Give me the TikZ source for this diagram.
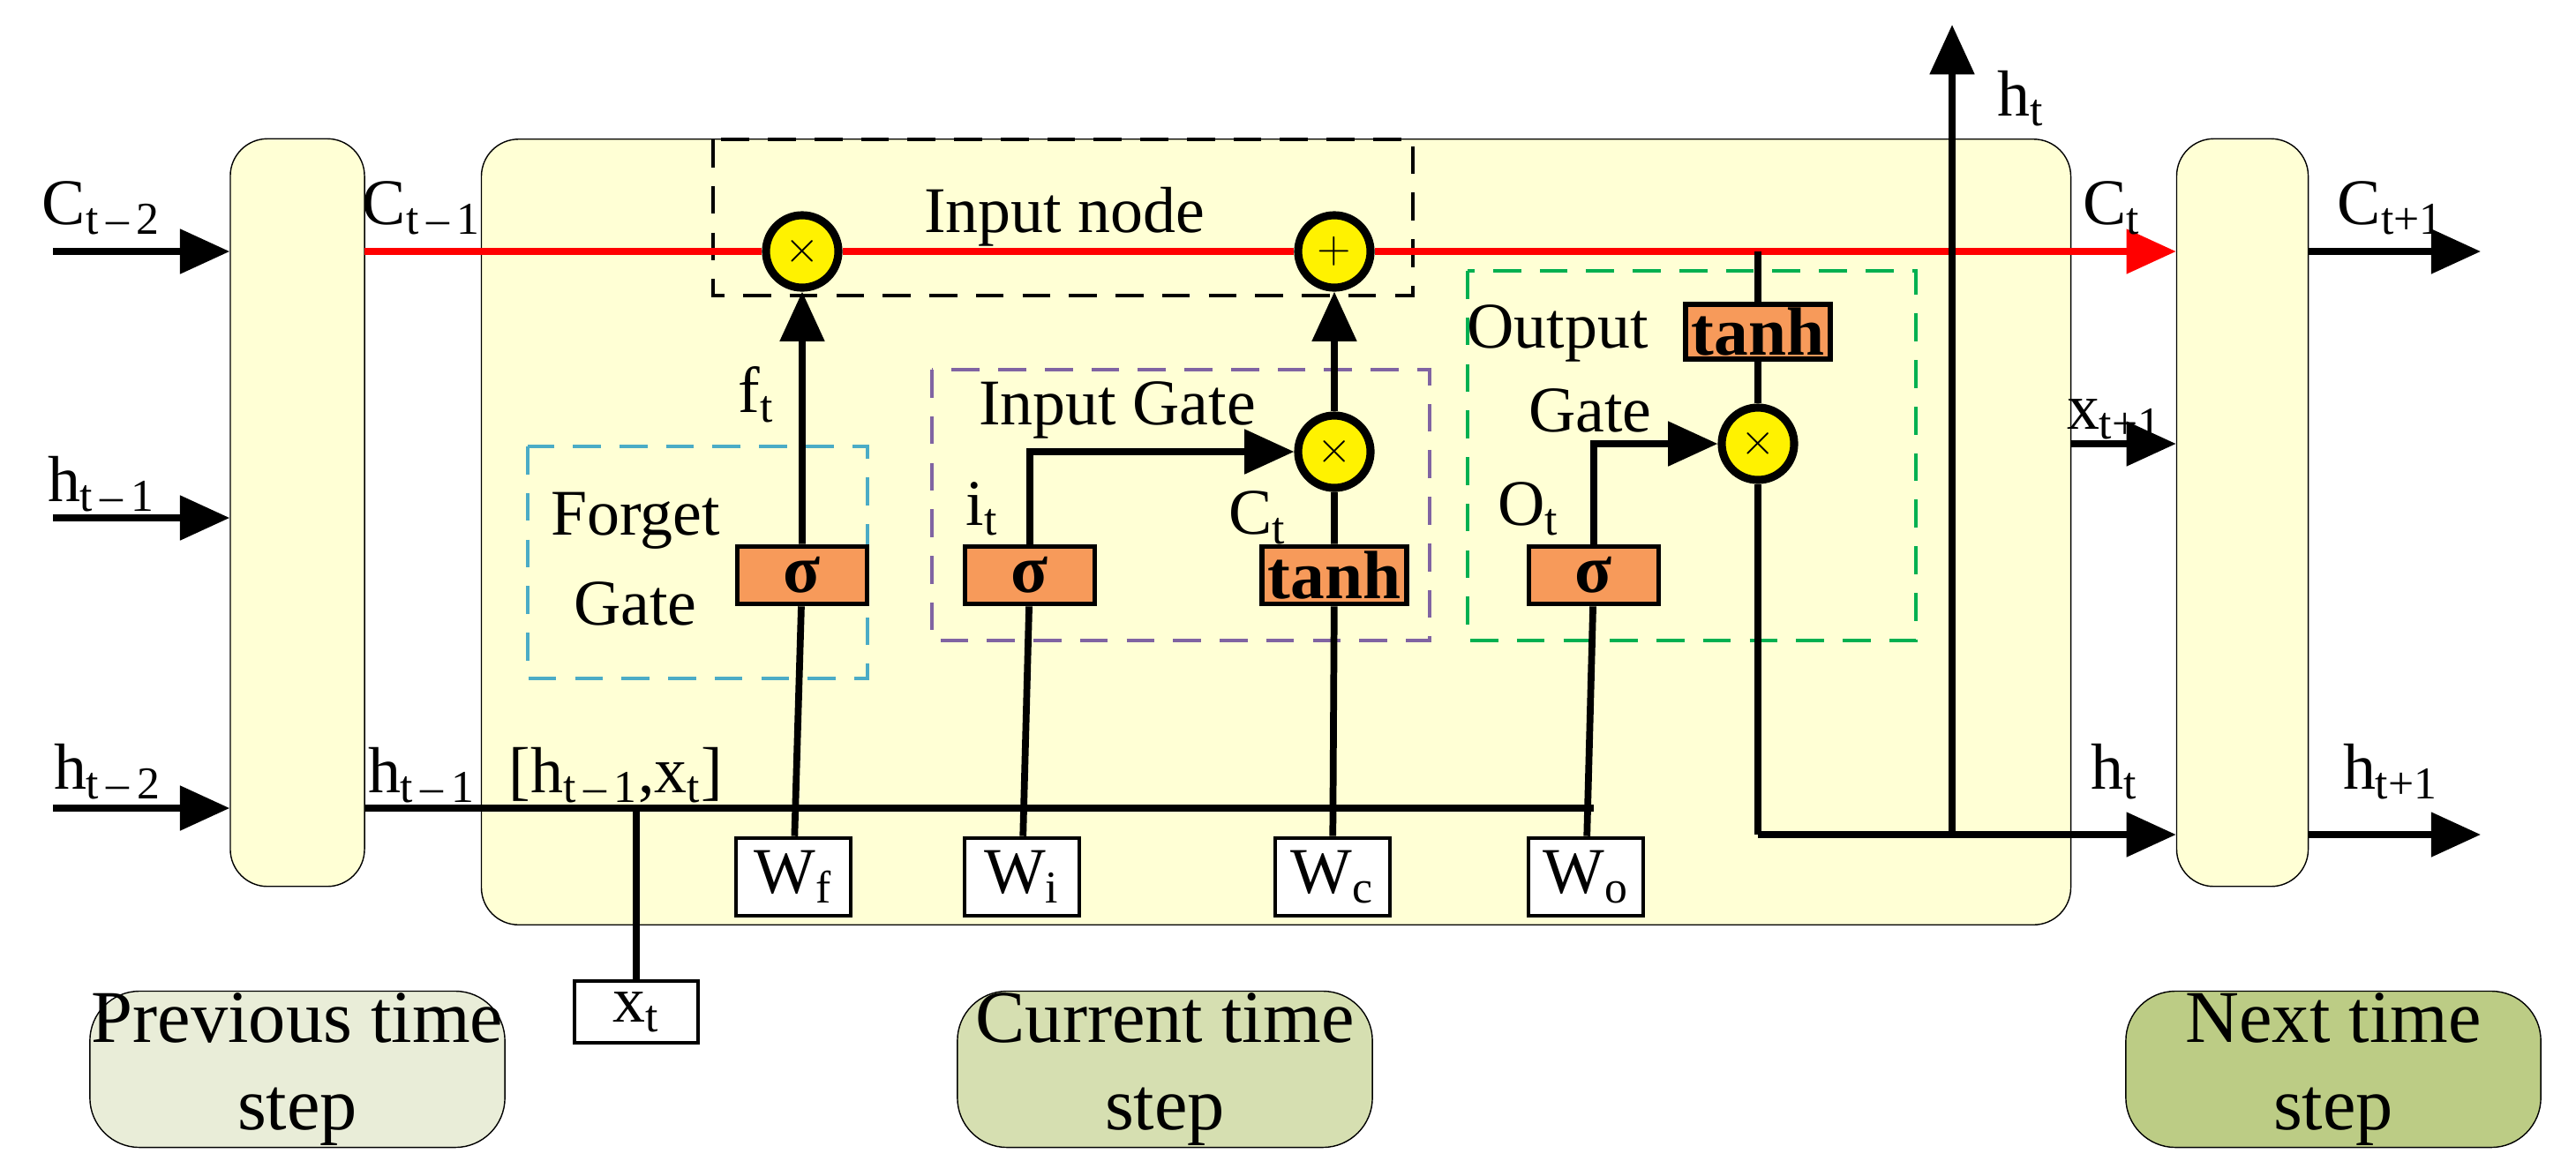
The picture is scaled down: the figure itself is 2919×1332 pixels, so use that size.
\documentclass[tikz,border=0pt]{standalone}
\usepackage{fontspec}
\setmainfont{Liberation Serif}
\usetikzlibrary{arrows.meta}
\definecolor{cellbg}{HTML}{FFFFD5}
\definecolor{gateor}{HTML}{F79A5A}
\definecolor{prevbg}{HTML}{E9EDD8}
\definecolor{curbg}{HTML}{D6DFB1}
\definecolor{nextbg}{HTML}{BCCC85}
\definecolor{fgblue}{HTML}{4BACC6}
\definecolor{igpurple}{HTML}{8064A2}
\definecolor{oggreen}{HTML}{00B050}
\tikzset{
  wire/.style={line width=2.2pt},
  arr/.style={wire, -{Triangle[length=16pt,width=14pt]}},
  blk/.style={draw, rounded corners=12pt, fill=cellbg, inner sep=0pt},
  act/.style={draw, line width=1.6pt, fill=gateor, minimum width=1.47cm, minimum height=0.65cm, inner sep=0pt, font=\bfseries\fontsize{22}{24}\selectfont},
  opn/.style={circle, draw, line width=2.6pt, fill=yellow, minimum size=0.82cm, inner sep=0pt},
  wbox/.style={draw, line width=1.3pt, fill=white, minimum width=1.3cm, minimum height=0.88cm, inner sep=0pt, font=\fontsize{21}{25}\selectfont},
  grp/.style={line width=1.3pt, dash pattern=on 9pt off 6pt},
  tstep/.style={draw, rounded corners=16pt, minimum width=4.7cm, minimum height=1.77cm, align=center, inner sep=0pt, font=\fontsize{24}{28}\selectfont},
  lbl/.style={inner sep=0pt, font=\fontsize{21}{25}\selectfont}
}
\newcommand{\sub}[1]{\textsubscript{#1}}
\begin{document}
\begin{tikzpicture}[x=0.01cm, y=-0.01cm, line join=miter]
				\useasboundingbox (0,0) rectangle (2919,1332);
				% blocks
				\node[blk, minimum width=1.52cm, minimum height=8.47cm] (prev) at (337,581){};
				\node[blk, minimum width=18cm, minimum height=8.9cm] (cell) at (1446,603){};
				\node[blk, minimum width=1.49cm, minimum height=8.47cm] (next) at (2541,581){};
				% dashed groups
				\draw[grp] (808,158) rectangle (1601,335);
				\draw[grp, fgblue] (598,506) rectangle (983,769);
				\draw[grp, igpurple] (1056,419) rectangle (1620,726);
				\draw[grp, oggreen] (1663,307) rectangle (2171,726);
				% coordinates
				\coordinate (cin) at (413,285);
				\coordinate (hin) at (413,916);
				\coordinate (hjoin) at (1806,916);
				\coordinate (xj) at (721,916);
				\coordinate (ctap) at (1992,285);
				\coordinate (hcorner) at (1992,946);
				\coordinate (hup) at (2212,946);
				\coordinate (htop) at (2212,28);
				\coordinate (xnx) at (2346,503);
				% operators and activations
				\node[opn] (mulf) at (909,285){\Large$\times$};
				\node[opn] (add) at (1512,285){\Large$+$};
				\node[opn] (muli) at (1512,512){\Large$\times$};
				\node[opn] (mulo) at (1992,503){\Large$\times$};
				\node[act] (sigf) at (909,652){σ};
				\node[act] (sigi) at (1167,652){σ};
				\node[act, minimum width=1.64cm] (tanhi) at (1512,652){tanh};
				\node[act] (sigo) at (1806,652){σ};
				\node[act, minimum width=1.64cm, minimum height=0.62cm] (tanho) at (1992,376){tanh};
				\node[wbox] (wf) at (899,994){W\sub{f}};
				\node[wbox] (wi) at (1158,994){W\sub{i}};
				\node[wbox] (wc) at (1510,994){W\sub{c}};
				\node[wbox] (wo) at (1797,994){W\sub{o}};
				\node[wbox, minimum width=1.4cm, minimum height=0.7cm] (xt) at (721,1147){x\sub{t}};
				% wires
				\draw[wire, red, -{Triangle[length=16pt,width=14pt]}] (cin) -- (mulf) -- (add) -- (next.west |- cin);
				\draw[wire] (hin) -- (hjoin);
				\draw[wire] (xt) -- (xj);
				\draw[arr] (wf) -- (sigf) -- (mulf);
				\draw[wire] (wi) -- (sigi);
				\draw[arr] (sigi) |- (muli.west);
				\draw[wire] (wc) -- (tanhi) -- (muli);
				\draw[arr] (muli) -- (add);
				\draw[wire] (wo) -- (sigo);
				\draw[arr] (sigo) |- (mulo.west);
				\draw[wire] (ctap) -- (tanho) -- (mulo) -- (hcorner);
				\draw[arr] (hcorner) -- (next.west |- hcorner);
				\draw[arr] (hup) -- (htop);
				\draw[arr] (xnx) -- (next.west |- xnx);
				\draw[arr] (60,285) -- (prev.west |- 0,285);
				\draw[arr] (60,587) -- (prev.west |- 0,587);
				\draw[arr] (60,916) -- (prev.west |- 0,916);
				\draw[arr] (next.east |- 0,285) -- (2811,285);
				\draw[arr] (next.east |- 0,946) -- (2811,946);
				% labels
				\node[lbl] at (115,236){C\sub{t\,–\,2}};
				\node[lbl] at (115,549){h\sub{t\,–\,1}};
				\node[lbl] at (122,875){h\sub{t\,–\,2}};
				\node[lbl] at (478,236){C\sub{t\,–\,1}};
				\node[lbl] at (478,879){h\sub{t\,–\,1}};
				\node[lbl] at (698,879){[h\sub{t\,–\,1},x\sub{t}]};
				\node[lbl] at (857,447){f\sub{t}};
				\node[lbl] at (1113,577){i\sub{t}};
				\node[lbl] at (1425,587){C\sub{t}};
				\node[lbl] at (1732,577){O\sub{t}};
				\node[lbl] at (2290,112){h\sub{t}};
				\node[lbl] at (2393,236){C\sub{t}};
				\node[lbl] at (2396,475){x\sub{t+1}};
				\node[lbl] at (2396,875){h\sub{t}};
				\node[lbl] at (2709,236){C\sub{t+1}};
				\node[lbl] at (2709,875){h\sub{t+1}};
				\node[lbl] at (1206,246){Input node};
				\node[lbl] at (1266,465){Input Gate};
				\node[lbl, align=center] at (720,634){Forget\\[4pt]Gate};
				\node[lbl] at (1765,378){Output};
				\node[lbl] at (1802,465){Gate};
				\node[tstep, fill=prevbg] (sprev) at (337,1212){Previous time\\step};
				\node[tstep, fill=curbg] (scur) at (1320,1212){Current time\\step};
				\node[tstep, fill=nextbg] (snext) at (2644,1212){Next time\\step};
			\end{tikzpicture}
\end{document}
